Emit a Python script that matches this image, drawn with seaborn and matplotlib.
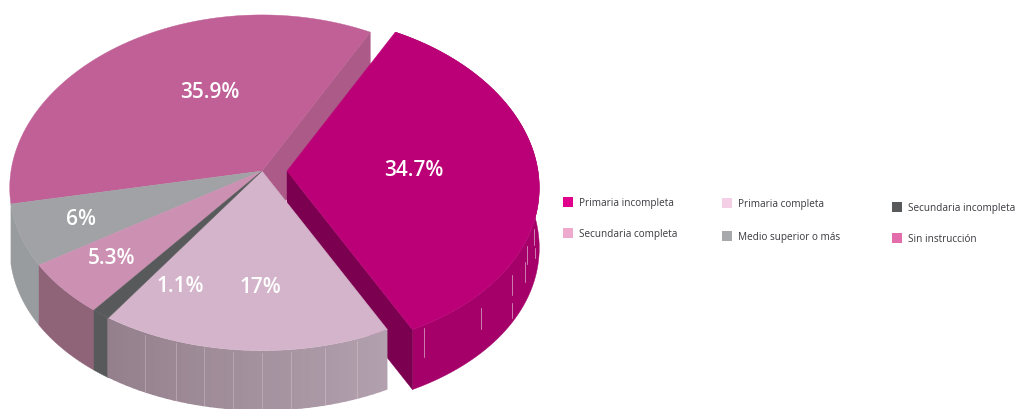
import numpy as np
import pandas as pd
import seaborn as sns
import matplotlib
matplotlib.use('Agg')
import matplotlib.pyplot as plt

# datos
categorias = ['Primaria incompleta', 'Primaria completa', 'Secundaria incompleta',
              'Secundaria completa', 'Medio superior o más', 'Sin instrucción']
valores = [34.7, 17, 1.1, 5.3, 6, 35.9]
etiquetas = ['34.7%', '17%', '1.1%', '5.3%', '6%', '35.9%']

color_top = ['#bb0077', '#d4b4ca', '#58595b', '#cc90b2', '#a0a2a5', '#c06096']
color_pared = ['#a50069', '#a08e9c', '#58595b', '#8f6478', '#999c9f', '#ac5a88']
color_legenda = ['#e0008c', '#f5cfe5', '#58595b', '#eeaacc', '#a7a8ac', '#e36cab']

sns.set_theme(style='white')
plt.rcParams['font.family'] = ['Open Sans', 'DejaVu Sans']

fig, ax = plt.subplots(figsize=(10.18, 4.10), dpi=100)
ax.set_position([0, 0, 1, 1])
ax.set_xlim(0, 1018)
ax.set_ylim(410, 0)
ax.axis('off')

# geometria del pastel en pixeles
cx, cy = 262, 172
a, b = 251, 167
kx, ky = 0.10, 0.07
alto = 60
inicio = -62
explota = {0: 25}


def proyecta(ang, dx=0):
    X = np.cos(np.radians(ang))
    Y = np.sin(np.radians(ang))
    return cx + dx + a * X / (1 - kx * Y), cy + b * Y / (1 - ky * Y)


# angulos de cada rebanada a partir de los valores
paso = np.array(valores) / sum(valores) * 360
fin = inicio + np.cumsum(paso)
ini = fin - paso


def tapa(i):
    dx = explota.get(i, 0)
    t = np.linspace(ini[i], fin[i], 120)
    x, y = proyecta(t, dx=dx)
    ax.fill(np.r_[cx + dx, x], np.r_[cy, y], color=color_top[i], lw=0.3)


def pared(i, color=None):
    dx = explota.get(i, 0)
    t = np.linspace(ini[i], fin[i], 120)
    x, y = proyecta(t, dx=dx)
    ax.fill(np.r_[x, x[::-1]], np.r_[y, y[::-1] + alto], color=color or color_pared[i], lw=0.3)


def cara(i, ang, color):
    dx = explota.get(i, 0)
    x, y = proyecta(ang, dx=dx)
    ax.fill([cx + dx, x, x, cx + dx], [cy, y, y + alto, cy + alto], color=color, lw=0.3)


def rayas(i, marcas, alpha=0.6):
    # cada marca: angulo, desde y hasta (pixeles bajo el borde)
    dx = explota.get(i, 0)
    for ang, d1, d2 in marcas:
        x, y = proyecta(ang, dx=dx)
        ax.plot([x, x], [y + d1, y + d2], color='#e6d4df', lw=0.7, alpha=alpha)


# atras: sin instruccion (su pared no se ve)
cara(5, fin[5], '#ac5a88')
tapa(5)

# rebanada separada
pared(0)
rayas(0, [(60, 3, 32), (44, 15, 36), (32, 12, 32), (32, 40, 55), (25, 18, 38), (23, 8, 26),
          (17, 8, 24), (16, 30, 40)])
cara(0, fin[0], '#7c0050')
tapa(0)

# resto de las paredes y tapas
pared(4)
pared(3)
pared(2)
# pared del 17% con degradado, mas oscuro a la izquierda
cortes = np.linspace(ini[1], fin[1], 40)
for j in range(len(cortes) - 1):
    t = np.linspace(cortes[j], cortes[j + 1] + 0.3, 6)
    x, y = proyecta(t)
    m = j / (len(cortes) - 2)
    tono = (1 - m) * np.array([0xb2, 0xa0, 0xae]) + m * np.array([0x94, 0x80, 0x8c])
    ax.fill(np.r_[x, x[::-1]], np.r_[y, y[::-1] + alto], color=tono / 255, lw=0)
rayas(1, [(ang, 2, alto) for ang in [70, 77, 84, 90, 96, 102, 108, 115]], alpha=0.35)
for i in [4, 3, 1, 2]:
    tapa(i)

# porcentajes
pos_x = [414, 260, 180, 112, 81, 210]
pos_y = [171, 288, 287, 259, 220, 93]
for i, txt in enumerate(etiquetas):
    ax.text(pos_x[i], pos_y[i], txt, color='white', fontsize=15, fontweight='semibold',
            ha='center', va='center')

# leyenda
leg = pd.DataFrame({'x': [568, 727, 897, 568, 727, 897],
                    'y': [203, 204, 208, 234, 237, 239],
                    'cat': categorias})
sns.scatterplot(data=leg, x='x', y='y', hue='cat', palette=color_legenda, marker='s', s=62,
                linewidth=0, legend=False, ax=ax)
ax.set_xlim(0, 1018)
ax.set_ylim(410, 0)
ax.axis('off')
for _, fila in leg.iterrows():
    ax.text(fila['x'] + 11, fila['y'] + 0.5, fila['cat'], color='#3a3a40', fontsize=7.2,
            ha='left', va='center')

fig.savefig('out.png', dpi=100)
